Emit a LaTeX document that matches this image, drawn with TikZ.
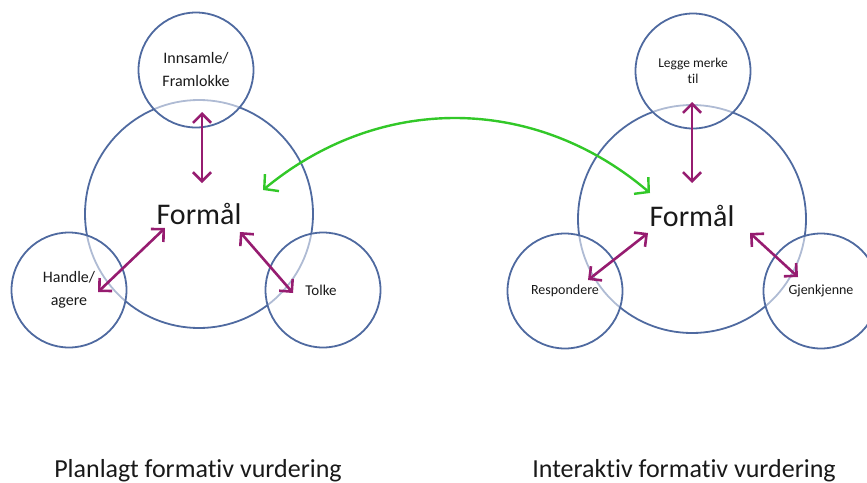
\documentclass[tikz,border=0pt]{standalone}
\usepackage{fontspec}
\setmainfont{Carlito}[Ligatures=NoCommon]
\usetikzlibrary{%
    arrows.meta,
    calc,
    positioning
}
\definecolor{ringblue}{RGB}{79,106,160}
\definecolor{linkpurple}{RGB}{150,28,112}
\definecolor{switchgreen}{RGB}{50,200,40}
\tikzset{
    bigring/.style   = {circle, draw=ringblue, line width=1.8pt, inner sep=0pt,
                        minimum size=228pt, text=black!90,
                        font=\fontsize{30}{36}\selectfont},
    smallring/.style = {circle, draw=ringblue, line width=1.8pt, inner sep=0pt,
                        minimum size=115pt, fill=white, fill opacity=.55,
                        text opacity=1, text=black!90, align=center},
    linkarrow/.style = {{Straight Barb[length=9pt,width=18pt]}-{Straight Barb[length=9pt,width=18pt]},
                        linkpurple, line width=2.6pt},
    switcharrow/.style = {{Straight Barb[length=10pt,width=22pt]}-{Straight Barb[length=10pt,width=22pt]},
                        switchgreen, line width=2.4pt},
    caption/.style   = {anchor=base, text=black!90, font=\fontsize{26}{30}\selectfont}
}

\begin{document}
\begin{tikzpicture}[x=1pt, y=-1pt]
    \useasboundingbox (0,0) rectangle (867,482);

    % planlagt
    \node (formalL) [bigring] at (199,214) {Formål};
    \node (innsamle) [smallring, font=\fontsize{16}{23}\selectfont] at (196,70) {Innsamle/\\Framlokke};
    \node (handle) [smallring, font=\fontsize{16}{23}\selectfont] at (69,290) {Handle/\\agere};
    \node (tolke) [smallring, font=\fontsize{15}{18}\selectfont] at (323,290) {\hspace*{-4pt}Tolke};

    % interaktiv
    \node (formalR) [bigring] at (692,219) {\raisebox{6pt}{Formål}};
    \node (legge) [smallring, font=\fontsize{13.5}{16}\selectfont] at (693,71) {Legge merke\\til};
    \node (respondere) [smallring, font=\fontsize{14}{17}\selectfont] at (565,291) {Respondere};
    \node (gjenkjenne) [smallring, font=\fontsize{14}{17}\selectfont] at (821,291) {Gjenkjenne};

    \node (planlagt) [caption] at (198,477) {Planlagt formativ vurdering};
    \node (interaktiv) [caption] at (684,477) {Interaktiv formativ vurdering};

    \foreach \Name/\X/\Y in {%
        innsamle-end/202/112,
        formalL-top/202/183,
        handle-end/98/292,
        formalL-left/165/228,
        formalL-right/240/232,
        tolke-end/293/293,
        legge-end/692/102,
        formalR-top/692/183,
        respondere-end/588/280,
        formalR-left/648/233,
        formalR-right/750/233,
        gjenkjenne-end/798/277,
        switch-left/263/190,
        switch-right/650/193%
    }
        \coordinate (\Name) at (\X,\Y);

    \foreach \Source/\Target in {%
        innsamle-end/formalL-top,
        handle-end/formalL-left,
        formalL-right/tolke-end,
        legge-end/formalR-top,
        respondere-end/formalR-left,
        formalR-right/gjenkjenne-end%
    }
        \draw[linkarrow] (\Source) -- (\Target);

    \draw[switcharrow] (switch-left) to[bend left=40] (switch-right);
\end{tikzpicture}
\end{document}
